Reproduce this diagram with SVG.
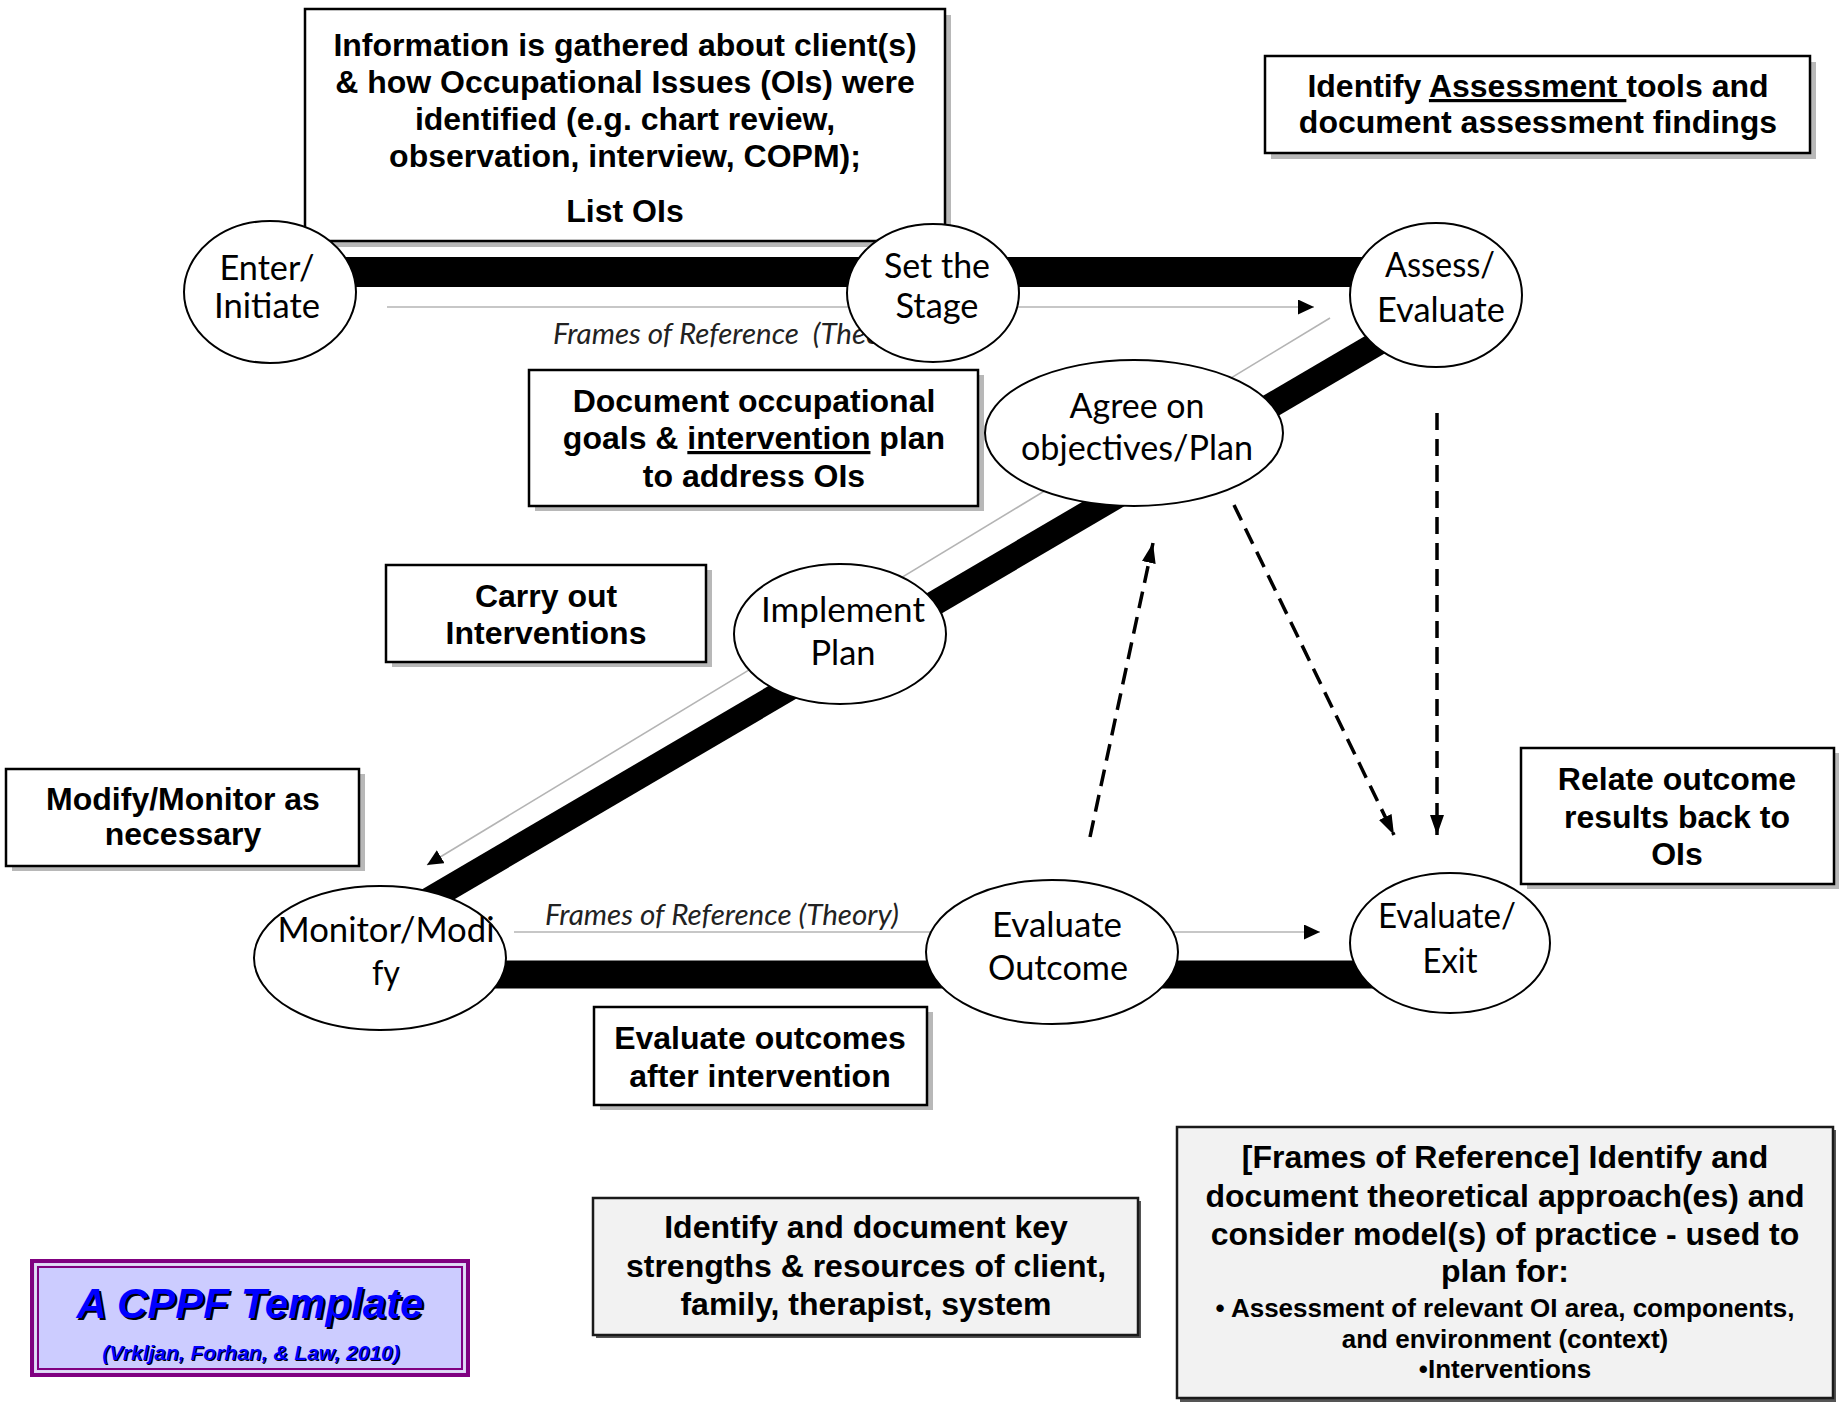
<svg xmlns="http://www.w3.org/2000/svg" width="1839" height="1405" viewBox="0 0 1839 1405">
<style>
.box{fill:#fff;stroke:#000;stroke-width:2.5}
.shd{fill:#b8b8b8}
.gbox{fill:#f2f2f2;stroke:#1a1a1a;stroke-width:2.5}
.gshd{fill:#555}
.bt{font-family:"Liberation Sans",Arial,sans-serif;font-weight:bold;font-size:32px;text-anchor:middle;fill:#000}
.sm{font-size:26px}
.el{fill:#fff;stroke:#000;stroke-width:2}
.et{font-family:Lato,"Open Sans",sans-serif;font-size:35px;text-anchor:middle;fill:#000}
.it{font-family:Lato,"Open Sans",sans-serif;font-style:italic;font-size:29px;fill:#222}
.bar{stroke:#000;fill:none}
.thin{stroke:#b4b4b4;stroke-width:1.6;fill:none}
.dash{stroke:#000;stroke-width:3.5;stroke-dasharray:17 9;fill:none}
.cp{font-family:"Liberation Sans",Arial,sans-serif;font-weight:bold;font-style:italic;text-anchor:middle}
</style>
<defs>
<marker id="ah" viewBox="0 0 10 10" refX="10" refY="5" markerWidth="16" markerHeight="15" markerUnits="userSpaceOnUse" orient="auto" preserveAspectRatio="none"><path d="M0,0 L10,5 L0,10 z" fill="#000"/></marker>
<marker id="ahd" viewBox="0 0 10 10" refX="10" refY="5" markerWidth="20" markerHeight="14" markerUnits="userSpaceOnUse" orient="auto" preserveAspectRatio="none"><path d="M0,0 L10,5 L0,10 z" fill="#000"/></marker>
</defs>
<rect width="1839" height="1405" fill="#fff"/>

<g id="connectors">
  <path class="bar" d="M330,272 H1395" stroke-width="30"/>
  <path class="bar" d="M420,905 L1400,330" stroke-width="25"/>
  <path class="bar" d="M470,974.5 H1400" stroke-width="28"/>
  <path class="thin" d="M387,307 H1314" marker-end="url(#ah)"/>
  <path class="thin" d="M1330,318 L427,865" marker-end="url(#ah)"/>
  <path class="thin" d="M514,932 H1320" marker-end="url(#ah)"/>
  <path class="dash" d="M1437,413 V835" marker-end="url(#ahd)"/>
  <path class="dash" d="M1234,505 L1394,835" marker-end="url(#ahd)"/>
  <path class="dash" d="M1090,837 L1153,543" marker-end="url(#ahd)"/>
  <text class="it" x="553" y="344" textLength="360" lengthAdjust="spacingAndGlyphs" xml:space="preserve">Frames of Reference  (Theory)</text>
  <text class="it" x="545" y="925" textLength="354" lengthAdjust="spacingAndGlyphs">Frames of Reference (Theory)</text>
</g>

<g id="box-info">
  <rect class="shd" x="311" y="15" width="640" height="232"/>
  <rect class="box" x="305" y="9" width="640" height="232"/>
  <text class="bt" x="625" y="56">Information is gathered about client(s)</text>
  <text class="bt" x="625" y="93">&amp; how Occupational Issues (OIs) were</text>
  <text class="bt" x="625" y="130">identified (e.g. chart review,</text>
  <text class="bt" x="625" y="167">observation, interview, COPM);</text>
  <text class="bt" x="625" y="222">List OIs</text>
</g>

<g id="box-assessment">
  <rect class="shd" x="1271" y="62" width="545" height="97"/>
  <rect class="box" x="1265" y="56" width="545" height="97"/>
  <text class="bt" x="1538" y="97">Identify <tspan text-decoration="underline">Assessment </tspan>tools and</text>
  <text class="bt" x="1538" y="133">document assessment findings</text>
</g>

<g id="box-document">
  <rect class="shd" x="535" y="375" width="449" height="136"/>
  <rect class="box" x="529" y="370" width="449" height="136"/>
  <text class="bt" x="754" y="412">Document occupational</text>
  <text class="bt" x="754" y="449">goals &amp; <tspan text-decoration="underline">intervention</tspan> plan</text>
  <text class="bt" x="754" y="487">to address OIs</text>
</g>

<g id="box-carry">
  <rect class="shd" x="392" y="570" width="320" height="97"/>
  <rect class="box" x="386" y="565" width="320" height="97"/>
  <text class="bt" x="546" y="607">Carry out</text>
  <text class="bt" x="546" y="644">Interventions</text>
</g>

<g id="box-modify">
  <rect class="shd" x="12" y="774" width="353" height="97"/>
  <rect class="box" x="6" y="769" width="353" height="97"/>
  <text class="bt" x="183" y="810">Modify/Monitor as</text>
  <text class="bt" x="183" y="845">necessary</text>
</g>

<g id="box-evaluate-outcomes">
  <rect class="shd" x="600" y="1012" width="333" height="98"/>
  <rect class="box" x="594" y="1007" width="333" height="98"/>
  <text class="bt" x="760" y="1049">Evaluate outcomes</text>
  <text class="bt" x="760" y="1087">after intervention</text>
</g>

<g id="box-relate">
  <rect class="shd" x="1527" y="753" width="313" height="136"/>
  <rect class="box" x="1521" y="748" width="313" height="136"/>
  <text class="bt" x="1677" y="790">Relate outcome</text>
  <text class="bt" x="1677" y="828">results back to</text>
  <text class="bt" x="1677" y="865">OIs</text>
</g>

<g id="box-strengths">
  <rect class="gshd" x="596" y="1201" width="545" height="137"/>
  <rect class="gbox" x="593" y="1198" width="545" height="137"/>
  <text class="bt" x="866" y="1238">Identify and document key</text>
  <text class="bt" x="866" y="1277">strengths &amp; resources of client,</text>
  <text class="bt" x="866" y="1315">family, therapist, system</text>
</g>

<g id="box-frames">
  <rect class="gshd" x="1180" y="1130" width="656" height="272"/>
  <rect class="gbox" x="1177" y="1127" width="656" height="271"/>
  <text class="bt" x="1505" y="1168">[Frames of Reference] Identify and</text>
  <text class="bt" x="1505" y="1207">document theoretical approach(es) and</text>
  <text class="bt" x="1505" y="1245">consider model(s) of practice - used to</text>
  <text class="bt" x="1505" y="1282">plan for:</text>
  <text class="bt sm" x="1505" y="1317">• Assessment of relevant OI area, components,</text>
  <text class="bt sm" x="1505" y="1348">and environment (context)</text>
  <text class="bt sm" x="1505" y="1378">•Interventions</text>
</g>

<g id="box-cppf">
  <rect x="32" y="1261" width="436" height="114" fill="#ccccff" stroke="#800080" stroke-width="4"/>
  <rect x="35.5" y="1264.5" width="429" height="107" fill="none" stroke="#e6dcf0" stroke-width="2"/>
  <rect x="38" y="1267" width="424" height="102" fill="none" stroke="#800080" stroke-width="2"/>
  <text class="cp" x="252" y="1320" font-size="42" fill="#000">A CPPF Template</text>
  <text class="cp" x="250" y="1318" font-size="42" fill="#0000ff">A CPPF Template</text>
  <text class="cp" x="252" y="1361" font-size="21" fill="#000">(Vrkljan, Forhan, &amp; Law, 2010)</text>
  <text class="cp" x="251" y="1360" font-size="21" fill="#0000ff">(Vrkljan, Forhan, &amp; Law, 2010)</text>
</g>

<g id="node-enter">
  <ellipse class="el" cx="270" cy="292" rx="86" ry="71"/>
  <text class="et" x="267" y="280" textLength="95" lengthAdjust="spacingAndGlyphs">Enter/</text>
  <text class="et" x="267" y="318" textLength="106" lengthAdjust="spacingAndGlyphs">Initiate</text>
</g>
<g id="node-stage">
  <ellipse class="el" cx="933" cy="293" rx="86" ry="69"/>
  <text class="et" x="937" y="278" textLength="106" lengthAdjust="spacingAndGlyphs">Set the</text>
  <text class="et" x="937" y="318" textLength="83" lengthAdjust="spacingAndGlyphs">Stage</text>
</g>
<g id="node-assess">
  <ellipse class="el" cx="1436" cy="295" rx="86" ry="72"/>
  <text class="et" x="1440" y="277" textLength="110" lengthAdjust="spacingAndGlyphs">Assess/</text>
  <text class="et" x="1441" y="322" textLength="128" lengthAdjust="spacingAndGlyphs">Evaluate</text>
</g>
<g id="node-agree">
  <ellipse class="el" cx="1134" cy="433" rx="149" ry="73"/>
  <text class="et" x="1137" y="418" textLength="135" lengthAdjust="spacingAndGlyphs">Agree on</text>
  <text class="et" x="1137" y="460" textLength="232" lengthAdjust="spacingAndGlyphs">objectives/Plan</text>
</g>
<g id="node-implement">
  <ellipse class="el" cx="840" cy="634" rx="106" ry="70"/>
  <text class="et" x="843" y="622" textLength="164" lengthAdjust="spacingAndGlyphs">Implement</text>
  <text class="et" x="843" y="665" textLength="65" lengthAdjust="spacingAndGlyphs">Plan</text>
</g>
<g id="node-monitor">
  <ellipse class="el" cx="380" cy="958" rx="126" ry="72"/>
  <text class="et" x="386" y="942" textLength="217" lengthAdjust="spacingAndGlyphs">Monitor/Modi</text>
  <text class="et" x="386" y="985" textLength="28" lengthAdjust="spacingAndGlyphs">fy</text>
</g>
<g id="node-outcome">
  <ellipse class="el" cx="1052" cy="952" rx="126" ry="72"/>
  <text class="et" x="1057" y="937" textLength="130" lengthAdjust="spacingAndGlyphs">Evaluate</text>
  <text class="et" x="1058" y="980" textLength="140" lengthAdjust="spacingAndGlyphs">Outcome</text>
</g>
<g id="node-exit">
  <ellipse class="el" cx="1450" cy="943" rx="100" ry="70"/>
  <text class="et" x="1447" y="928" textLength="138" lengthAdjust="spacingAndGlyphs">Evaluate/</text>
  <text class="et" x="1450" y="973" textLength="55" lengthAdjust="spacingAndGlyphs">Exit</text>
</g>
</svg>
